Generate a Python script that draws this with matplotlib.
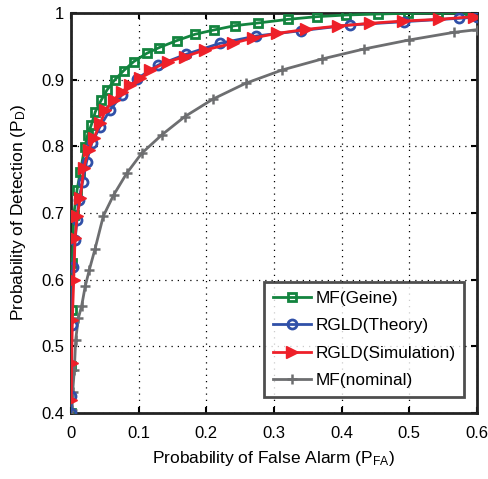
import matplotlib
matplotlib.use("Agg")
import matplotlib.pyplot as plt

plt.rcParams['font.family'] = ['Liberation Sans', 'DejaVu Sans']
plt.rcParams['mathtext.fontset'] = 'custom'
plt.rcParams['mathtext.rm'] = 'Liberation Sans'
plt.rcParams['mathtext.it'] = 'Liberation Sans'

# MF(Geine)
mf_geine_x = [0.0, 0.0005, 0.001, 0.002, 0.004, 0.009, 0.0138, 0.0202, 0.0246, 0.030,
              0.036, 0.0448, 0.0532, 0.0645, 0.0778, 0.0926, 0.112, 0.130, 0.156, 0.183,
              0.211, 0.242, 0.276, 0.321, 0.363, 0.407, 0.454, 0.4975, 0.543, 0.589]
mf_geine_y = [0.40, 0.47, 0.555, 0.625, 0.697, 0.735, 0.762, 0.7985, 0.817, 0.832,
              0.852, 0.8695, 0.8845, 0.8995, 0.9135, 0.927, 0.9395, 0.948, 0.9585, 0.968,
              0.9745, 0.981, 0.985, 0.9905, 0.9945, 0.997, 0.9985, 0.9995, 1.0, 1.0]

# RGLD(Theory)
rgld_th_x = [0.0, 0.0005, 0.001, 0.0035, 0.006, 0.0089, 0.0113, 0.0172, 0.023, 0.0306,
             0.0429, 0.0576, 0.075, 0.097, 0.129, 0.170, 0.22, 0.274, 0.34, 0.412,
             0.492, 0.573, 0.6]
rgld_th_y = [0.40, 0.425, 0.532, 0.6195, 0.6595, 0.6895, 0.7195, 0.747, 0.777, 0.8045,
             0.8295, 0.8545, 0.877, 0.901, 0.922, 0.938, 0.9545, 0.9655, 0.9735, 0.982,
             0.987, 0.992, 0.994]

# RGLD(Simulation)
rgld_sim_x = [0.0005, 0.001, 0.002, 0.004, 0.006, 0.009, 0.0138, 0.0187, 0.026, 0.0335,
              0.0433, 0.0507, 0.063, 0.0754, 0.0877, 0.1024, 0.117, 0.144, 0.168, 0.198,
              0.239, 0.269, 0.305, 0.348, 0.395, 0.442, 0.491, 0.544, 0.595]
rgld_sim_y = [0.42, 0.4745, 0.5395, 0.5995, 0.662, 0.695, 0.722, 0.767, 0.7945, 0.812,
              0.8345, 0.854, 0.8695, 0.882, 0.892, 0.902, 0.9145, 0.927, 0.9345, 0.9445,
              0.9545, 0.9625, 0.9695, 0.9755, 0.9805, 0.9845, 0.988, 0.9905, 0.9945]

# MF(nominal)
mf_nom_x = [0.0015, 0.0025, 0.0049, 0.0069, 0.0108, 0.0158, 0.021, 0.027, 0.0355, 0.0478,
            0.063, 0.0823, 0.1044, 0.134, 0.168, 0.210, 0.258, 0.312, 0.371, 0.433,
            0.4995, 0.566, 0.6]
mf_nom_y = [0.4045, 0.432, 0.4645, 0.5095, 0.542, 0.561, 0.59, 0.6145, 0.646, 0.6955,
            0.727, 0.7595, 0.7895, 0.817, 0.8445, 0.871, 0.8945, 0.9145, 0.931, 0.946,
            0.9595, 0.971, 0.975]

x_ticks = [0, 0.1, 0.2, 0.3, 0.4, 0.5, 0.6]
x_tick_labels = ['0', '0.1', '0.2', '0.3', '0.4', '0.5', '0.6']
y_ticks = [0.4, 0.5, 0.6, 0.7, 0.8, 0.9, 1.0]
y_tick_labels = ['0.4', '0.5', '0.6', '0.7', '0.8', '0.9', '1']

fig = plt.figure(figsize=(4.88, 4.79), dpi=100)
ax = fig.add_axes([71/488, 1-413/479, 406/488, 400/479])

c_green = '#13843f'
c_blue = '#3050a8'
c_red = '#ee2029'
c_gray = '#6d6e70'

ax.plot(mf_geine_x, mf_geine_y, color=c_green, lw=2.0, marker='s', ms=6,
        mfc='none', mec=c_green, mew=2.0, label='MF(Geine)', zorder=3)
ax.plot(rgld_th_x, rgld_th_y, color=c_blue, lw=2.0, marker='o', ms=6.5,
        mfc='none', mec=c_blue, mew=2.0, label='RGLD(Theory)', zorder=4)
ax.plot(rgld_sim_x, rgld_sim_y, color=c_red, lw=2.0, marker='>', ms=9,
        mfc=c_red, mec=c_red, label='RGLD(Simulation)', zorder=5)
ax.plot(mf_nom_x, mf_nom_y, color=c_gray, lw=2.0, marker='+', ms=7,
        mew=1.8, label='MF(nominal)', zorder=3)

ax.set_xlim(0, 0.6)
ax.set_ylim(0.4, 1.0)
ax.set_xticks(x_ticks)
ax.set_xticklabels(x_tick_labels)
ax.set_yticks(y_ticks)
ax.set_yticklabels(y_tick_labels)
ax.tick_params(direction='in', length=4, width=1.5, top=True, right=True,
               labelsize=12, colors='black')
ax.tick_params(axis='x', pad=9)
ax.tick_params(axis='y', pad=5)
ax.grid(True, linestyle=(0, (1, 4)), color='black', lw=0.9)
for s in ax.spines.values():
    s.set_linewidth(2.0)
    s.set_color('#222222')

ax.set_xlabel('Probability of False Alarm (P$_{\\rm FA}$)', fontsize=12.5, labelpad=6)
ax.set_ylabel('Probability of Detection (P$_{\\rm D}$)', fontsize=12.5, labelpad=9)

leg = ax.legend(loc='lower right', bbox_to_anchor=(0.968, 0.04), fontsize=12.4,
                frameon=True, fancybox=False, edgecolor='#222222',
                handlelength=2.2, handletextpad=0.25, borderpad=0.5,
                labelspacing=0.72, borderaxespad=0.0)
leg.get_frame().set_linewidth(2.0)

fig.savefig('out.png', dpi=100)
